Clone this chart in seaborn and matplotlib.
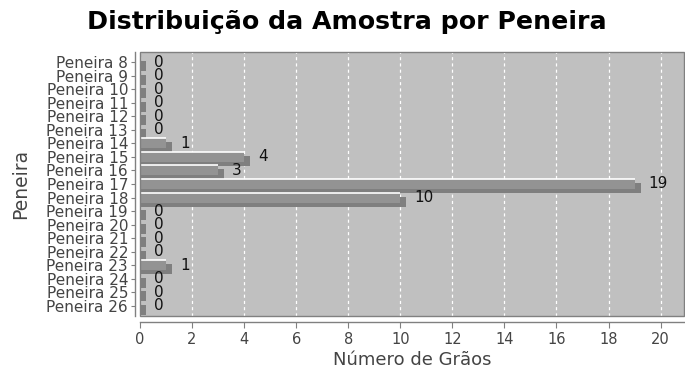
import matplotlib
matplotlib.use("Agg")
import matplotlib.pyplot as plt
import matplotlib.transforms as mtransforms
from matplotlib.patches import Rectangle
import seaborn as sns
import pandas as pd

# Sieve categories and grain counts
peneiras = ["Peneira 8", "Peneira 9", "Peneira 10", "Peneira 11", "Peneira 12",
            "Peneira 13", "Peneira 14", "Peneira 15", "Peneira 16", "Peneira 17",
            "Peneira 18", "Peneira 19", "Peneira 20", "Peneira 21", "Peneira 22",
            "Peneira 23", "Peneira 24", "Peneira 25", "Peneira 26"]
graos = [0, 0, 0, 0, 0, 0, 1, 4, 3, 19, 10, 0, 0, 0, 0, 1, 0, 0, 0]
x_ticks = [0, 2, 4, 6, 8, 10, 12, 14, 16, 18, 20]

df = pd.DataFrame({"Peneira": peneiras, "Grãos": graos})

sns.set_theme(style="white")
plt.rcParams["font.family"] = ["DejaVu Sans"]

DPI = 100
fig = plt.figure(figsize=(6.85, 3.74), dpi=DPI)
fig.patch.set_facecolor("white")
ax = fig.add_axes([140 / 685, 1 - 316 / 374, 544 / 685, 264 / 374])
ax.set_facecolor("#c0c0c0")
ax.set_xlim(0, 20.9)
ax.set_ylim(18.74, -0.74)

# shadow bars: pegged at the axis, extended past the bar end and dropped
# a few pixels (shadow extension / drop in pixels)
SHADOW_EXT_PX = 6
SHADOW_DROP_PX = 4
sns.barplot(data=df, x="Grãos", y="Peneira", orient="h", color="#7f7f7f",
            saturation=1, width=0.74, linewidth=0, ax=ax)
ax.set_xlim(0, 20.9)
ax.set_ylim(18.74, -0.74)
inv = ax.transData.inverted()
ext = inv.transform((SHADOW_EXT_PX, 0))[0] - inv.transform((0, 0))[0]
drop = mtransforms.ScaledTranslation(0, -SHADOW_DROP_PX / DPI, fig.dpi_scale_trans)
n_shadow = len(ax.patches)
for p in ax.patches[:n_shadow]:
    p.set_width(p.get_width() + ext)
    p.set_transform(ax.transData + drop)
    p.set_zorder(2)

# main bars
sns.barplot(data=df, x="Grãos", y="Peneira", orient="h", color="#939393",
            saturation=1, width=0.74, linewidth=0, ax=ax)
main = ax.containers[-1]
for p in main:
    p.set_zorder(3)
    if p.get_width() > 0:
        ax.plot([p.get_x(), p.get_x() + p.get_width()], [p.get_y(), p.get_y()],
                color="white", lw=1.2, zorder=4, solid_capstyle="butt")

ax.bar_label(main, labels=[str(v) for v in graos], padding=10, fontsize=11,
             color="#111111", zorder=5)

ax.set_xlim(0, 20.9)
ax.set_ylim(18.74, -0.74)
ax.set_xticks(x_ticks)
ax.set_xticklabels([str(t) for t in x_ticks])

# dashed white vertical gridlines
ax.grid(axis="x", color="white", linestyle=(0, (2.5, 2.5)), linewidth=0.9)
ax.grid(axis="y", visible=False)
ax.set_axisbelow(True)

# plot outline
for s in ["top", "right"]:
    ax.spines[s].set_visible(False)
ax.add_patch(Rectangle((0, 0), 1, 1, transform=ax.transAxes, fill=False,
                       edgecolor="#808080", linewidth=1.0, zorder=6, clip_on=False))

# separate axis lines
ax.spines["left"].set_position(("outward", 3.6))
ax.spines["bottom"].set_position(("outward", 4.3))
for s in ["left", "bottom"]:
    ax.spines[s].set_color("#808080")
    ax.spines[s].set_linewidth(1.0)

ax.tick_params(axis="y", which="both", left=True, length=3, width=0.8,
               color="#808080", labelsize=11, labelcolor="#444444", pad=2)
ax.tick_params(axis="x", which="both", bottom=True, length=4, width=0.8,
               color="#808080", labelsize=10.5, labelcolor="#444444", pad=3)

ax.set_xlabel("Número de Grãos", fontsize=13, color="#444444", labelpad=3)
ax.set_ylabel("Peneira", fontsize=13.5, color="#444444", labelpad=12)

fig.suptitle("Distribuição da Amostra por Peneira", fontsize=18.2,
             fontweight="bold", color="black", x=0.507, y=0.972, va="top")

fig.savefig("out.png", dpi=DPI, facecolor="white")
